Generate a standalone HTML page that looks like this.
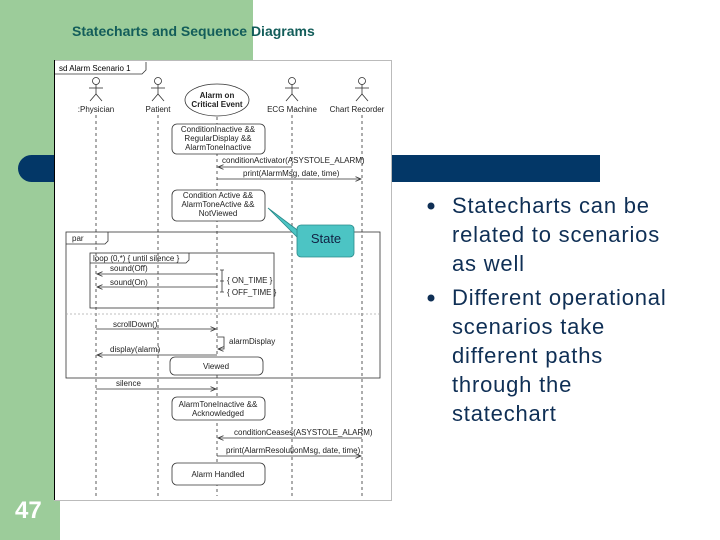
<!DOCTYPE html>
<html><head><meta charset="utf-8"><style>
body{margin:0;width:720px;height:540px;position:relative;overflow:hidden;background:#fff;font-family:"Liberation Sans",sans-serif}
.a{position:absolute}
</style></head><body>
<div class="a" style="left:0;top:0;width:253px;height:160px;background:#9ccc9a"></div>
<div class="a" style="left:0;top:0;width:60px;height:540px;background:#9ccc9a"></div>
<div class="a" style="left:18px;top:155px;width:582px;height:27px;background:#033767;border-radius:14px 0 0 14px"></div>
<div class="a" style="left:72px;top:23px;font-size:14px;font-weight:bold;color:#135d5a">Statecharts and Sequence Diagrams</div>
<div class="a" style="left:15px;top:497px;font-size:24px;font-weight:bold;color:#fff">47</div>
<svg class="a" style="left:0;top:0" width="720" height="540" font-family="Liberation Sans, sans-serif" font-size="8">
<defs><marker id="ar" markerWidth="8" markerHeight="8" refX="7" refY="4" orient="auto"><path d="M0,1 L7,4 L0,7" fill="none" stroke="#333" stroke-width="1"/></marker></defs>
<rect x="54.5" y="60.5" width="337" height="440" fill="#fff" stroke="#bbb"/>
<line x1="54.5" y1="60" x2="54.5" y2="500" stroke="#000"/>
<path d="M55,74 H142 L146,70 V62" fill="none" stroke="#333" stroke-width=".8"/>
<text x="59" y="71">sd Alarm Scenario 1</text>
<g stroke="#333" fill="none" stroke-width=".8">
<g id="act"><circle cx="96" cy="81" r="3.5"/><line x1="96" y1="84.5" x2="96" y2="94"/><line x1="89" y1="88" x2="103" y2="88"/><path d="M90,101 L96,94 L102,101"/></g>
<use href="#act" x="62"/><use href="#act" x="196"/><use href="#act" x="266"/>
<ellipse cx="217" cy="100" rx="32" ry="16"/>
<g stroke-dasharray="3,3"><line x1="96" y1="115" x2="96" y2="496"/><line x1="158" y1="115" x2="158" y2="496"/><line x1="217" y1="117" x2="217" y2="496"/><line x1="292" y1="115" x2="292" y2="496"/><line x1="362" y1="115" x2="362" y2="496"/></g>
<rect x="172" y="124" width="93" height="30" rx="5" fill="#fff"/>
<rect x="172" y="190" width="93" height="31" rx="5" fill="#fff"/>
<rect x="66" y="232" width="314" height="146"/>
<path d="M66,244 H105 L108,241 V232"/>
<rect x="90" y="253" width="184" height="55"/>
<path d="M90,263 H186 L189,260 V253"/>
<line x1="66" y1="314" x2="380" y2="314" stroke-dasharray="2,2" stroke="#aaa"/>
<rect x="170" y="357" width="93" height="18" rx="5" fill="#fff"/>
<rect x="172" y="397" width="93" height="23" rx="5" fill="#fff"/>
<rect x="172" y="463" width="93" height="22" rx="5" fill="#fff"/>
<path d="M222,270 V292 M220,270 H224 M220,281 H224 M220,292 H224"/>
<path d="M217,337 H224 V349 H218" marker-end="url(#ar)"/>
<g marker-end="url(#ar)">
<line x1="292" y1="167" x2="218" y2="167"/><line x1="217" y1="179" x2="361" y2="179"/>
<line x1="217" y1="274" x2="97" y2="274"/><line x1="217" y1="287" x2="97" y2="287"/>
<line x1="96" y1="329" x2="216" y2="329"/><line x1="217" y1="355" x2="97" y2="355"/>
<line x1="96" y1="389" x2="216" y2="389"/><line x1="362" y1="438" x2="218" y2="438"/>
<line x1="217" y1="456" x2="361" y2="456"/>
</g></g>
<g fill="#222" text-anchor="middle">
<text x="96" y="112">:Physician</text><text x="158" y="112">Patient</text><text x="292" y="112">ECG Machine</text><text x="357" y="112">Chart Recorder</text>
<text x="217" y="98" font-weight="bold">Alarm on</text><text x="217" y="107" font-weight="bold">Critical Event</text>
<text x="218" y="132">ConditionInactive &amp;&amp;</text><text x="218" y="141">RegularDisplay &amp;&amp;</text><text x="218" y="150">AlarmToneInactive</text>
<text x="218" y="198">Condition Active &amp;&amp;</text><text x="218" y="207">AlarmToneActive &amp;&amp;</text><text x="218" y="216">NotViewed</text>
<text x="216" y="369">Viewed</text>
<text x="218" y="407">AlarmToneInactive &amp;&amp;</text><text x="218" y="416">Acknowledged</text>
<text x="218" y="477">Alarm Handled</text>
</g>
<g fill="#222">
<text x="222" y="163">conditionActivator(ASYSTOLE_ALARM)</text>
<text x="243" y="176">print(AlarmMsg, date, time)</text>
<text x="72" y="241">par</text>
<text x="93" y="261">loop (0,*) { until silence }</text>
<text x="110" y="271">sound(Off)</text><text x="110" y="285">sound(On)</text>
<text x="227" y="283">{ ON_TIME }</text><text x="227" y="295">{ OFF_TIME }</text>
<text x="113" y="327">scrollDown()</text><text x="229" y="344">alarmDisplay</text>
<text x="110" y="352">display(alarm)</text><text x="116" y="386">silence</text>
<text x="234" y="435">conditionCeases(ASYSTOLE_ALARM)</text>
<text x="226" y="453">print(AlarmResolutionMsg, date, time)</text>
</g>
<path d="M268,208 L300,232 L300,240 Z" fill="#4cc4c4" stroke="#2a8a8a" stroke-width=".8"/>
<rect x="297" y="225" width="57" height="32" rx="4" fill="#4cc4c4" stroke="#2a8a8a" stroke-width=".8"/>
<text x="326" y="243" font-size="13" fill="#124" text-anchor="middle">State</text>
<g fill="#0f2f55"><circle cx="431" cy="206" r="3.5"/><circle cx="431" cy="298" r="3.5"/></g>
<g fill="#0f2f55" font-size="22" letter-spacing="0.8">
<text x="452" y="213">Statecharts can be</text><text x="452" y="242">related to scenarios</text><text x="452" y="271">as well</text>
<text x="452" y="305">Different operational</text><text x="452" y="334">scenarios take</text><text x="452" y="363">different paths</text><text x="452" y="392">through the</text><text x="452" y="421">statechart</text>
</g>
</svg>
</body></html>
